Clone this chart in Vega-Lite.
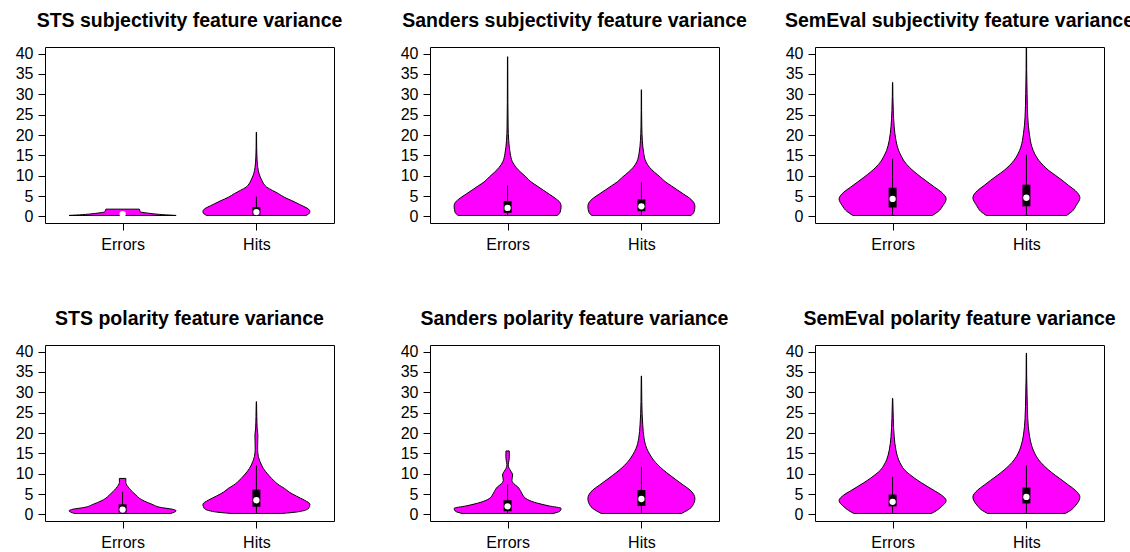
{
  "$schema": "https://vega.github.io/schema/vega-lite/v6.json",
  "padding": {"left": 14, "top": 10, "right": 0, "bottom": 0},
  "bounds": "flush",
  "columns": 3,
  "spacing": {"row": 122, "column": 96},
  "data": {"values": [
    {"p":"STS subjectivity feature variance","g":"Errors","v":0.25,"w":0.4},
    {"p":"STS subjectivity feature variance","g":"Errors","v":0.45,"w":0.3},
    {"p":"STS subjectivity feature variance","g":"Errors","v":0.7,"w":0.22},
    {"p":"STS subjectivity feature variance","g":"Errors","v":0.95,"w":0.16},
    {"p":"STS subjectivity feature variance","g":"Errors","v":1.1,"w":0.135},
    {"p":"STS subjectivity feature variance","g":"Errors","v":1.3,"w":0.13},
    {"p":"STS subjectivity feature variance","g":"Errors","v":1.6,"w":0.128},
    {"p":"STS subjectivity feature variance","g":"Errors","v":1.8,"w":0.125},
    {"p":"STS subjectivity feature variance","g":"Hits","v":0.25,"w":0.37},
    {"p":"STS subjectivity feature variance","g":"Hits","v":0.6,"w":0.39},
    {"p":"STS subjectivity feature variance","g":"Hits","v":1.2,"w":0.4},
    {"p":"STS subjectivity feature variance","g":"Hits","v":1.8,"w":0.39},
    {"p":"STS subjectivity feature variance","g":"Hits","v":2.3,"w":0.364},
    {"p":"STS subjectivity feature variance","g":"Hits","v":3.0,"w":0.32},
    {"p":"STS subjectivity feature variance","g":"Hits","v":3.9,"w":0.264},
    {"p":"STS subjectivity feature variance","g":"Hits","v":4.7,"w":0.21},
    {"p":"STS subjectivity feature variance","g":"Hits","v":5.6,"w":0.165},
    {"p":"STS subjectivity feature variance","g":"Hits","v":6.4,"w":0.12},
    {"p":"STS subjectivity feature variance","g":"Hits","v":7.2,"w":0.077},
    {"p":"STS subjectivity feature variance","g":"Hits","v":8.0,"w":0.055},
    {"p":"STS subjectivity feature variance","g":"Hits","v":8.9,"w":0.04},
    {"p":"STS subjectivity feature variance","g":"Hits","v":10.5,"w":0.02},
    {"p":"STS subjectivity feature variance","g":"Hits","v":12.1,"w":0.01},
    {"p":"STS subjectivity feature variance","g":"Hits","v":14.6,"w":0.004},
    {"p":"STS subjectivity feature variance","g":"Hits","v":17,"w":0.002},
    {"p":"STS subjectivity feature variance","g":"Hits","v":20.7,"w":0.001},

    {"p":"Sanders subjectivity feature variance","g":"Errors","v":0.25,"w":0.37},
    {"p":"Sanders subjectivity feature variance","g":"Errors","v":1.0,"w":0.392},
    {"p":"Sanders subjectivity feature variance","g":"Errors","v":2.5,"w":0.4},
    {"p":"Sanders subjectivity feature variance","g":"Errors","v":3.5,"w":0.39},
    {"p":"Sanders subjectivity feature variance","g":"Errors","v":4.5,"w":0.355},
    {"p":"Sanders subjectivity feature variance","g":"Errors","v":5.5,"w":0.31},
    {"p":"Sanders subjectivity feature variance","g":"Errors","v":6.5,"w":0.265},
    {"p":"Sanders subjectivity feature variance","g":"Errors","v":7.5,"w":0.22},
    {"p":"Sanders subjectivity feature variance","g":"Errors","v":8.5,"w":0.175},
    {"p":"Sanders subjectivity feature variance","g":"Errors","v":9.7,"w":0.137},
    {"p":"Sanders subjectivity feature variance","g":"Errors","v":10.8,"w":0.1},
    {"p":"Sanders subjectivity feature variance","g":"Errors","v":12.1,"w":0.062},
    {"p":"Sanders subjectivity feature variance","g":"Errors","v":13.5,"w":0.035},
    {"p":"Sanders subjectivity feature variance","g":"Errors","v":15.4,"w":0.02},
    {"p":"Sanders subjectivity feature variance","g":"Errors","v":18.7,"w":0.008},
    {"p":"Sanders subjectivity feature variance","g":"Errors","v":22,"w":0.004},
    {"p":"Sanders subjectivity feature variance","g":"Errors","v":28,"w":0.002},
    {"p":"Sanders subjectivity feature variance","g":"Errors","v":39.2,"w":0.001},
    {"p":"Sanders subjectivity feature variance","g":"Hits","v":0.25,"w":0.37},
    {"p":"Sanders subjectivity feature variance","g":"Hits","v":1.0,"w":0.392},
    {"p":"Sanders subjectivity feature variance","g":"Hits","v":2.5,"w":0.4},
    {"p":"Sanders subjectivity feature variance","g":"Hits","v":3.5,"w":0.39},
    {"p":"Sanders subjectivity feature variance","g":"Hits","v":4.5,"w":0.36},
    {"p":"Sanders subjectivity feature variance","g":"Hits","v":5.5,"w":0.315},
    {"p":"Sanders subjectivity feature variance","g":"Hits","v":6.5,"w":0.27},
    {"p":"Sanders subjectivity feature variance","g":"Hits","v":7.5,"w":0.225},
    {"p":"Sanders subjectivity feature variance","g":"Hits","v":8.5,"w":0.18},
    {"p":"Sanders subjectivity feature variance","g":"Hits","v":9.7,"w":0.14},
    {"p":"Sanders subjectivity feature variance","g":"Hits","v":10.8,"w":0.1},
    {"p":"Sanders subjectivity feature variance","g":"Hits","v":12.1,"w":0.06},
    {"p":"Sanders subjectivity feature variance","g":"Hits","v":13.5,"w":0.033},
    {"p":"Sanders subjectivity feature variance","g":"Hits","v":15.4,"w":0.018},
    {"p":"Sanders subjectivity feature variance","g":"Hits","v":18.7,"w":0.007},
    {"p":"Sanders subjectivity feature variance","g":"Hits","v":22,"w":0.003},
    {"p":"Sanders subjectivity feature variance","g":"Hits","v":26,"w":0.0015},
    {"p":"Sanders subjectivity feature variance","g":"Hits","v":31.1,"w":0.001},

    {"p":"SemEval subjectivity feature variance","g":"Errors","v":0.25,"w":0.297},
    {"p":"SemEval subjectivity feature variance","g":"Errors","v":1.2,"w":0.34},
    {"p":"SemEval subjectivity feature variance","g":"Errors","v":2.7,"w":0.377},
    {"p":"SemEval subjectivity feature variance","g":"Errors","v":4.3,"w":0.4},
    {"p":"SemEval subjectivity feature variance","g":"Errors","v":6.0,"w":0.364},
    {"p":"SemEval subjectivity feature variance","g":"Errors","v":7.2,"w":0.314},
    {"p":"SemEval subjectivity feature variance","g":"Errors","v":8.4,"w":0.264},
    {"p":"SemEval subjectivity feature variance","g":"Errors","v":9.6,"w":0.215},
    {"p":"SemEval subjectivity feature variance","g":"Errors","v":10.9,"w":0.165},
    {"p":"SemEval subjectivity feature variance","g":"Errors","v":12.1,"w":0.125},
    {"p":"SemEval subjectivity feature variance","g":"Errors","v":13.4,"w":0.09},
    {"p":"SemEval subjectivity feature variance","g":"Errors","v":14.8,"w":0.065},
    {"p":"SemEval subjectivity feature variance","g":"Errors","v":16.2,"w":0.045},
    {"p":"SemEval subjectivity feature variance","g":"Errors","v":18.7,"w":0.025},
    {"p":"SemEval subjectivity feature variance","g":"Errors","v":22,"w":0.012},
    {"p":"SemEval subjectivity feature variance","g":"Errors","v":26,"w":0.005},
    {"p":"SemEval subjectivity feature variance","g":"Errors","v":29.5,"w":0.002},
    {"p":"SemEval subjectivity feature variance","g":"Errors","v":32.9,"w":0.001},
    {"p":"SemEval subjectivity feature variance","g":"Hits","v":0.25,"w":0.3},
    {"p":"SemEval subjectivity feature variance","g":"Hits","v":1.2,"w":0.34},
    {"p":"SemEval subjectivity feature variance","g":"Hits","v":2.7,"w":0.372},
    {"p":"SemEval subjectivity feature variance","g":"Hits","v":4.6,"w":0.4},
    {"p":"SemEval subjectivity feature variance","g":"Hits","v":6.4,"w":0.364},
    {"p":"SemEval subjectivity feature variance","g":"Hits","v":7.6,"w":0.316},
    {"p":"SemEval subjectivity feature variance","g":"Hits","v":8.9,"w":0.267},
    {"p":"SemEval subjectivity feature variance","g":"Hits","v":10.1,"w":0.217},
    {"p":"SemEval subjectivity feature variance","g":"Hits","v":11.3,"w":0.167},
    {"p":"SemEval subjectivity feature variance","g":"Hits","v":12.5,"w":0.127},
    {"p":"SemEval subjectivity feature variance","g":"Hits","v":13.8,"w":0.092},
    {"p":"SemEval subjectivity feature variance","g":"Hits","v":15.4,"w":0.062},
    {"p":"SemEval subjectivity feature variance","g":"Hits","v":17,"w":0.042},
    {"p":"SemEval subjectivity feature variance","g":"Hits","v":20.3,"w":0.022},
    {"p":"SemEval subjectivity feature variance","g":"Hits","v":24.4,"w":0.01},
    {"p":"SemEval subjectivity feature variance","g":"Hits","v":30.2,"w":0.005},
    {"p":"SemEval subjectivity feature variance","g":"Hits","v":36,"w":0.002},
    {"p":"SemEval subjectivity feature variance","g":"Hits","v":45,"w":0.001},

    {"p":"STS polarity feature variance","g":"Errors","v":0.25,"w":0.36},
    {"p":"STS polarity feature variance","g":"Errors","v":0.9,"w":0.4},
    {"p":"STS polarity feature variance","g":"Errors","v":1.3,"w":0.37},
    {"p":"STS polarity feature variance","g":"Errors","v":1.7,"w":0.29},
    {"p":"STS polarity feature variance","g":"Errors","v":2.5,"w":0.22},
    {"p":"STS polarity feature variance","g":"Errors","v":3.3,"w":0.162},
    {"p":"STS polarity feature variance","g":"Errors","v":4.0,"w":0.125},
    {"p":"STS polarity feature variance","g":"Errors","v":4.75,"w":0.1},
    {"p":"STS polarity feature variance","g":"Errors","v":5.6,"w":0.072},
    {"p":"STS polarity feature variance","g":"Errors","v":6.4,"w":0.05},
    {"p":"STS polarity feature variance","g":"Errors","v":7.2,"w":0.032},
    {"p":"STS polarity feature variance","g":"Errors","v":7.8,"w":0.024},
    {"p":"STS polarity feature variance","g":"Errors","v":8.85,"w":0.024},
    {"p":"STS polarity feature variance","g":"Hits","v":0.25,"w":0.19},
    {"p":"STS polarity feature variance","g":"Hits","v":0.65,"w":0.31},
    {"p":"STS polarity feature variance","g":"Hits","v":1.5,"w":0.39},
    {"p":"STS polarity feature variance","g":"Hits","v":2.5,"w":0.4},
    {"p":"STS polarity feature variance","g":"Hits","v":3.5,"w":0.36},
    {"p":"STS polarity feature variance","g":"Hits","v":4.5,"w":0.3},
    {"p":"STS polarity feature variance","g":"Hits","v":5.5,"w":0.245},
    {"p":"STS polarity feature variance","g":"Hits","v":6.4,"w":0.21},
    {"p":"STS polarity feature variance","g":"Hits","v":7.2,"w":0.17},
    {"p":"STS polarity feature variance","g":"Hits","v":8.0,"w":0.14},
    {"p":"STS polarity feature variance","g":"Hits","v":9.7,"w":0.09},
    {"p":"STS polarity feature variance","g":"Hits","v":11.3,"w":0.052},
    {"p":"STS polarity feature variance","g":"Hits","v":13.0,"w":0.027},
    {"p":"STS polarity feature variance","g":"Hits","v":14.2,"w":0.015},
    {"p":"STS polarity feature variance","g":"Hits","v":16,"w":0.009},
    {"p":"STS polarity feature variance","g":"Hits","v":18,"w":0.01},
    {"p":"STS polarity feature variance","g":"Hits","v":19.5,"w":0.011},
    {"p":"STS polarity feature variance","g":"Hits","v":21,"w":0.006},
    {"p":"STS polarity feature variance","g":"Hits","v":24,"w":0.003},
    {"p":"STS polarity feature variance","g":"Hits","v":27.7,"w":0.001},

    {"p":"Sanders polarity feature variance","g":"Errors","v":0.25,"w":0.34},
    {"p":"Sanders polarity feature variance","g":"Errors","v":0.8,"w":0.39},
    {"p":"Sanders polarity feature variance","g":"Errors","v":1.5,"w":0.4},
    {"p":"Sanders polarity feature variance","g":"Errors","v":2.1,"w":0.31},
    {"p":"Sanders polarity feature variance","g":"Errors","v":3.0,"w":0.2},
    {"p":"Sanders polarity feature variance","g":"Errors","v":3.9,"w":0.137},
    {"p":"Sanders polarity feature variance","g":"Errors","v":4.7,"w":0.115},
    {"p":"Sanders polarity feature variance","g":"Errors","v":5.6,"w":0.1},
    {"p":"Sanders polarity feature variance","g":"Errors","v":6.8,"w":0.075},
    {"p":"Sanders polarity feature variance","g":"Errors","v":7.6,"w":0.045},
    {"p":"Sanders polarity feature variance","g":"Errors","v":8.4,"w":0.032},
    {"p":"Sanders polarity feature variance","g":"Errors","v":9.7,"w":0.038},
    {"p":"Sanders polarity feature variance","g":"Errors","v":10.6,"w":0.025},
    {"p":"Sanders polarity feature variance","g":"Errors","v":11.3,"w":0.012},
    {"p":"Sanders polarity feature variance","g":"Errors","v":12.2,"w":0.005},
    {"p":"Sanders polarity feature variance","g":"Errors","v":13.2,"w":0.01},
    {"p":"Sanders polarity feature variance","g":"Errors","v":14.2,"w":0.013},
    {"p":"Sanders polarity feature variance","g":"Errors","v":15.6,"w":0.012},
    {"p":"Sanders polarity feature variance","g":"Hits","v":0.25,"w":0.3},
    {"p":"Sanders polarity feature variance","g":"Hits","v":1.9,"w":0.377},
    {"p":"Sanders polarity feature variance","g":"Hits","v":3.9,"w":0.4},
    {"p":"Sanders polarity feature variance","g":"Hits","v":6.0,"w":0.364},
    {"p":"Sanders polarity feature variance","g":"Hits","v":7.2,"w":0.314},
    {"p":"Sanders polarity feature variance","g":"Hits","v":8.4,"w":0.264},
    {"p":"Sanders polarity feature variance","g":"Hits","v":9.6,"w":0.215},
    {"p":"Sanders polarity feature variance","g":"Hits","v":10.9,"w":0.165},
    {"p":"Sanders polarity feature variance","g":"Hits","v":12.1,"w":0.125},
    {"p":"Sanders polarity feature variance","g":"Hits","v":13.4,"w":0.09},
    {"p":"Sanders polarity feature variance","g":"Hits","v":14.8,"w":0.062},
    {"p":"Sanders polarity feature variance","g":"Hits","v":16.2,"w":0.04},
    {"p":"Sanders polarity feature variance","g":"Hits","v":18.7,"w":0.02},
    {"p":"Sanders polarity feature variance","g":"Hits","v":22,"w":0.01},
    {"p":"Sanders polarity feature variance","g":"Hits","v":27.7,"w":0.003},
    {"p":"Sanders polarity feature variance","g":"Hits","v":34,"w":0.001},

    {"p":"SemEval polarity feature variance","g":"Errors","v":0.25,"w":0.29},
    {"p":"SemEval polarity feature variance","g":"Errors","v":1.0,"w":0.33},
    {"p":"SemEval polarity feature variance","g":"Errors","v":1.9,"w":0.364},
    {"p":"SemEval polarity feature variance","g":"Errors","v":3.4,"w":0.4},
    {"p":"SemEval polarity feature variance","g":"Errors","v":4.8,"w":0.364},
    {"p":"SemEval polarity feature variance","g":"Errors","v":5.8,"w":0.314},
    {"p":"SemEval polarity feature variance","g":"Errors","v":6.8,"w":0.264},
    {"p":"SemEval polarity feature variance","g":"Errors","v":7.8,"w":0.215},
    {"p":"SemEval polarity feature variance","g":"Errors","v":8.9,"w":0.165},
    {"p":"SemEval polarity feature variance","g":"Errors","v":9.9,"w":0.125},
    {"p":"SemEval polarity feature variance","g":"Errors","v":10.9,"w":0.09},
    {"p":"SemEval polarity feature variance","g":"Errors","v":12.1,"w":0.065},
    {"p":"SemEval polarity feature variance","g":"Errors","v":13.4,"w":0.045},
    {"p":"SemEval polarity feature variance","g":"Errors","v":15.8,"w":0.025},
    {"p":"SemEval polarity feature variance","g":"Errors","v":19.1,"w":0.012},
    {"p":"SemEval polarity feature variance","g":"Errors","v":23.6,"w":0.005},
    {"p":"SemEval polarity feature variance","g":"Errors","v":28.5,"w":0.001},
    {"p":"SemEval polarity feature variance","g":"Hits","v":0.25,"w":0.29},
    {"p":"SemEval polarity feature variance","g":"Hits","v":1.0,"w":0.33},
    {"p":"SemEval polarity feature variance","g":"Hits","v":2.3,"w":0.37},
    {"p":"SemEval polarity feature variance","g":"Hits","v":4.3,"w":0.4},
    {"p":"SemEval polarity feature variance","g":"Hits","v":6.0,"w":0.364},
    {"p":"SemEval polarity feature variance","g":"Hits","v":7.2,"w":0.316},
    {"p":"SemEval polarity feature variance","g":"Hits","v":8.4,"w":0.267},
    {"p":"SemEval polarity feature variance","g":"Hits","v":9.6,"w":0.217},
    {"p":"SemEval polarity feature variance","g":"Hits","v":10.9,"w":0.167},
    {"p":"SemEval polarity feature variance","g":"Hits","v":12.1,"w":0.127},
    {"p":"SemEval polarity feature variance","g":"Hits","v":13.4,"w":0.092},
    {"p":"SemEval polarity feature variance","g":"Hits","v":15.0,"w":0.062},
    {"p":"SemEval polarity feature variance","g":"Hits","v":16.6,"w":0.042},
    {"p":"SemEval polarity feature variance","g":"Hits","v":19.5,"w":0.022},
    {"p":"SemEval polarity feature variance","g":"Hits","v":23.6,"w":0.01},
    {"p":"SemEval polarity feature variance","g":"Hits","v":29.3,"w":0.005},
    {"p":"SemEval polarity feature variance","g":"Hits","v":34,"w":0.002},
    {"p":"SemEval polarity feature variance","g":"Hits","v":39.6,"w":0.001},

    {"p":"STS subjectivity feature variance","g":"Errors","wl":0.6,"q1":0.6,"md":0.6,"q3":0.6,"wh":0.6},
    {"p":"STS subjectivity feature variance","g":"Hits","wl":0.25,"q1":0.5,"md":1.07,"q3":2.3,"wh":4.9},
    {"p":"Sanders subjectivity feature variance","g":"Errors","wl":0.25,"q1":0.9,"md":2.1,"q3":3.8,"wh":7.6},
    {"p":"Sanders subjectivity feature variance","g":"Hits","wl":0.25,"q1":1.3,"md":2.5,"q3":4.2,"wh":8.4},
    {"p":"SemEval subjectivity feature variance","g":"Errors","wl":0.25,"q1":2.2,"md":4.3,"q3":7.05,"wh":14.2},
    {"p":"SemEval subjectivity feature variance","g":"Hits","wl":0.25,"q1":2.5,"md":4.6,"q3":7.8,"wh":15.2},
    {"p":"STS polarity feature variance","g":"Errors","wl":0.25,"q1":0.5,"md":1.2,"q3":2.5,"wh":5.6},
    {"p":"STS polarity feature variance","g":"Hits","wl":0.25,"q1":1.9,"md":3.5,"q3":6.1,"wh":12.1},
    {"p":"Sanders polarity feature variance","g":"Errors","wl":0.25,"q1":0.8,"md":2.0,"q3":3.5,"wh":7.4},
    {"p":"Sanders polarity feature variance","g":"Hits","wl":0.25,"q1":2.1,"md":3.8,"q3":6.0,"wh":11.7},
    {"p":"SemEval polarity feature variance","g":"Errors","wl":0.25,"q1":2.0,"md":3.1,"q3":4.9,"wh":9.3},
    {"p":"SemEval polarity feature variance","g":"Hits","wl":0.25,"q1":2.7,"md":4.3,"q3":6.6,"wh":12.0}
  ]},
  "transform": [
    {"calculate": "datum.g === 'Errors' ? 1 : 2", "as": "c"}
  ],
  "facet": {
    "field": "p",
    "type": "nominal",
    "sort": [
      "STS subjectivity feature variance",
      "Sanders subjectivity feature variance",
      "SemEval subjectivity feature variance",
      "STS polarity feature variance",
      "Sanders polarity feature variance",
      "SemEval polarity feature variance"
    ],
    "header": {
      "title": null,
      "labelFont": "Liberation Sans",
      "labelFontSize": 19.5,
      "labelFontWeight": "bold",
      "labelColor": "#000000",
      "labelPadding": -1,
      "labelBaseline": "alphabetic",
      "labelAnchor": "middle"
    }
  },
  "spec": {
    "width": 289,
    "height": 176,
    "layer": [
      {
        "transform": [
          {"filter": "isValid(datum.w)"},
          {"calculate": "datum.c - datum.w", "as": "lo"},
          {"calculate": "datum.c + datum.w", "as": "hi"}
        ],
        "mark": {"type": "area", "orient": "horizontal", "interpolate": "monotone", "fill": "#FF00FF", "stroke": "#000000", "strokeWidth": 1, "clip": true},
        "encoding": {
          "y": {"field": "v", "type": "quantitative", "title": null,
                "scale": {"domain": [-1.6, 41.6], "nice": false, "zero": false},
                "axis": {"values": [0,5,10,15,20,25,30,35,40], "tickCount": 9, "labelPadding": 5, "labelOverlap": false}},
          "x": {"field": "lo", "type": "quantitative", "title": null,
                "scale": {"domain": [0.42, 2.58], "nice": false, "zero": false},
                "axis": {"values": [1, 2], "labelExpr": "datum.value == 1 ? 'Errors' : 'Hits'", "labelPadding": 6, "labelOverlap": false}},
          "x2": {"field": "hi"},
          "detail": {"field": "g"}
        }
      },
      {
        "transform": [{"filter": "isValid(datum.md)"}],
        "mark": {"type": "rule", "color": "#000000", "strokeWidth": 1, "clip": true},
        "encoding": {
          "x": {"field": "c", "type": "quantitative", "title": null,
                "scale": {"domain": [0.42, 2.58], "nice": false, "zero": false},
                "axis": {"values": [1, 2], "labelExpr": "datum.value == 1 ? 'Errors' : 'Hits'", "labelPadding": 6, "labelOverlap": false}},
          "y": {"field": "wl", "type": "quantitative", "title": null,
                "scale": {"domain": [-1.6, 41.6], "nice": false, "zero": false},
                "axis": {"values": [0,5,10,15,20,25,30,35,40], "tickCount": 9, "labelPadding": 5, "labelOverlap": false}},
          "y2": {"field": "wh"}
        }
      },
      {
        "transform": [{"filter": "isValid(datum.md)"}],
        "mark": {"type": "rule", "color": "#000000", "strokeWidth": 8, "strokeCap": "butt", "clip": true},
        "encoding": {
          "x": {"field": "c", "type": "quantitative", "title": null,
                "scale": {"domain": [0.42, 2.58], "nice": false, "zero": false},
                "axis": {"values": [1, 2], "labelExpr": "datum.value == 1 ? 'Errors' : 'Hits'", "labelPadding": 6, "labelOverlap": false}},
          "y": {"field": "q1", "type": "quantitative", "title": null,
                "scale": {"domain": [-1.6, 41.6], "nice": false, "zero": false},
                "axis": {"values": [0,5,10,15,20,25,30,35,40], "tickCount": 9, "labelPadding": 5, "labelOverlap": false}},
          "y2": {"field": "q3"}
        }
      },
      {
        "transform": [{"filter": "isValid(datum.md)"}],
        "mark": {"type": "point", "filled": true, "color": "#FFFFFF", "opacity": 1, "size": 40, "strokeWidth": 0},
        "encoding": {
          "x": {"field": "c", "type": "quantitative", "title": null,
                "scale": {"domain": [0.42, 2.58], "nice": false, "zero": false},
                "axis": {"values": [1, 2], "labelExpr": "datum.value == 1 ? 'Errors' : 'Hits'", "labelPadding": 6, "labelOverlap": false}},
          "y": {"field": "md", "type": "quantitative", "title": null,
                "scale": {"domain": [-1.6, 41.6], "nice": false, "zero": false},
                "axis": {"values": [0,5,10,15,20,25,30,35,40], "tickCount": 9, "labelPadding": 5, "labelOverlap": false}}
        }
      }
    ]
  },
  "resolve": {"axis": {"x": "independent", "y": "independent"}},
  "config": {
    "background": "#FFFFFF",
    "view": {"stroke": "#000000", "strokeWidth": 1},
    "axis": {
      "labelFont": "Liberation Sans",
      "labelFontSize": 16,
      "labelColor": "#000000",
      "labelOverlap": false,
      "tickColor": "#000000",
      "tickSize": 7,
      "tickWidth": 1,
      "grid": false,
      "domain": false
    }
  }
}
